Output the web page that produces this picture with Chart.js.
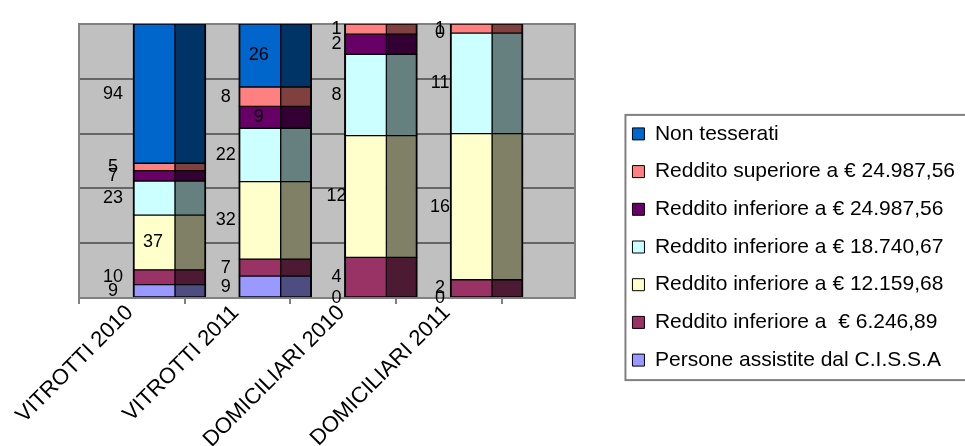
<!DOCTYPE html>
<html lang="it">
<head>
<meta charset="utf-8">
<script src="https://cdn.jsdelivr.net/npm/chart.js@4.4.1/dist/chart.umd.min.js"></script>
<style>
    html, body { margin: 0; padding: 0; background: #fff; overflow: hidden; }
</style>
</head>
<body>
<canvas id="grafico" width="965" height="446"></canvas>
<script>
const categorie = ['VITROTTI 2010', 'VITROTTI 2011', 'DOMICILIARI 2010', 'DOMICILIARI 2011'];

// serie, dal basso verso l'alto della pila
const personeAssistite = [9, 9, 0, 0];
const redditoInf6246 = [10, 7, 4, 2];
const redditoInf12159 = [37, 32, 12, 16];
const redditoInf18740 = [23, 22, 8, 11];
const redditoInf24987 = [7, 9, 2, 0];
const redditoSup24987 = [5, 8, 1, 1];
const nonTesserati = [94, 26, null, null];

const serieNomi = [
    'Persone assistite dal C.I.S.S.A',
    'Reddito inferiore a  € 6.246,89',
    'Reddito inferiore a € 12.159,68',
    'Reddito inferiore a € 18.740,67',
    'Reddito inferiore a € 24.987,56',
    'Reddito superiore a € 24.987,56',
    'Non tesserati'
];
const serieValori = [personeAssistite, redditoInf6246, redditoInf12159, redditoInf18740, redditoInf24987, redditoSup24987, nonTesserati];

const Grafico = (() => {
    let _configMap = {
        font: "'Liberation Sans', Arial, sans-serif",
        coloriFronte: ['#9999FF', '#993366', '#FFFFCC', '#CCFFFF', '#660066', '#FF8080', '#0066CC'],
        coloriLato: ['#4D4D80', '#4D1A33', '#808066', '#668080', '#330033', '#804040', '#003366'],
        spostamento: 0.908,   // dove cade lo spigolo fronte/lato dentro la categoria
        xMax: 4.69,           // la parete grigia continua oltre l'ultima categoria
        labelDx: [-20, -13, -8, -10],
        labelDentro: [[2, 0], [6, 1], [4, 1]]
    };

    const _totali = categorie.map((c, j) => serieValori.reduce((s, serie) => s + (serie[j] || 0), 0));

    const _percentuale = function (serie) {
        return serie.map((v, j) => ({ x: j + _configMap.spostamento, y: v === null ? null : v / _totali[j] * 100 }));
    };

    const _makeDatasets = function () {
        const fronte = serieValori.map((serie, i) => ({
            label: serieNomi[i],
            data: _percentuale(serie),
            stack: 'fronte',
            backgroundColor: _configMap.coloriFronte[i],
            borderColor: '#000',
            borderWidth: { top: 1, bottom: 1, left: 2, right: 1 },
            borderSkipped: false,
            barThickness: 42
        }));
        const lato = serieValori.map((serie, i) => ({
            label: serieNomi[i],
            data: _percentuale(serie),
            stack: 'lato',
            backgroundColor: _configMap.coloriLato[i],
            borderColor: '#000',
            borderWidth: { top: 1, bottom: 1, left: 1, right: 2 },
            borderSkipped: false,
            barThickness: 31
        }));
        return fronte.concat(lato);
    };

    // parete grigia dietro le barre
    const _parete = {
        id: 'parete',
        beforeDraw(chart) {
            const { ctx, chartArea } = chart;
            ctx.save();
            ctx.fillStyle = '#C0C0C0';
            ctx.fillRect(chartArea.left, chartArea.top, chartArea.right - chartArea.left, chartArea.bottom - chartArea.top);
            ctx.restore();
        }
    };

    // etichette con i valori accanto alle barre
    const _etichette = {
        id: 'etichette',
        afterDatasetsDraw(chart) {
            const ctx = chart.ctx;
            ctx.save();
            ctx.font = '18px ' + _configMap.font;
            ctx.fillStyle = '#000';
            ctx.textAlign = 'center';
            ctx.textBaseline = 'middle';
            serieValori.forEach((serie, i) => {
                const meta = chart.getDatasetMeta(i);
                meta.data.forEach((bar, j) => {
                    if (serie[j] === null) return;
                    const p = bar.getProps(['x', 'y', 'base', 'width'], true);
                    const left = p.x - p.width / 2;
                    const dentro = _configMap.labelDentro.some(([s, c]) => s === i && c === j);
                    const x = dentro ? left + 20 : left + _configMap.labelDx[j];
                    ctx.fillText(String(serie[j]), x, (p.y + p.base) / 2);
                });
            });
            ctx.restore();
        }
    };

    // cornice della legenda
    const _cornice = {
        id: 'cornice',
        afterDraw(chart) {
            const boxes = chart.legend.legendHitBoxes;
            if (!boxes || !boxes.length) return;
            const first = boxes[0];
            const last = boxes[boxes.length - 1];
            const ctx = chart.ctx;
            ctx.save();
            ctx.strokeStyle = '#808080';
            ctx.lineWidth = 2;
            const top = first.top + first.height / 2 - 19;
            const bottom = last.top + last.height / 2 + 20;
            ctx.strokeRect(first.left - 7, top, chart.width, bottom - top);
            ctx.restore();
        }
    };

    const _init = function () {
        Chart.defaults.font.family = _configMap.font;
        const ctx = document.getElementById('grafico');

        new Chart(ctx, {
            type: 'bar',
            data: { datasets: _makeDatasets() },
            options: {
                responsive: false,
                animation: false,
                layout: { padding: { top: 24, right: 0, bottom: 0, left: 0 } },
                scales: {
                    x: {
                        type: 'linear',
                        offset: false,
                        min: 0,
                        max: _configMap.xMax,
                        afterBuildTicks: (scale) => {
                            scale.ticks = [0, 0.5, 1, 1.5, 2, 2.5, 3, 3.5, 4].map(v => ({ value: v }));
                        },
                        afterFit: (scale) => { scale.height = 148; },
                        ticks: {
                            autoSkip: false,
                            minRotation: 45,
                            maxRotation: 45,
                            color: '#000',
                            padding: -4,
                            labelOffset: -2,
                            font: { size: 22 },
                            callback: (value) => (value % 1 === 0.5 ? categorie[Math.floor(value)] : '')
                        },
                        grid: {
                            offset: false,
                            drawOnChartArea: false,
                            tickLength: 6,
                            lineWidth: 2,
                            tickColor: (c) => (c.tick && c.tick.value % 1 === 0 ? '#808080' : 'rgba(0,0,0,0)')
                        },
                        border: { color: '#808080', width: 2 }
                    },
                    y: {
                        stacked: true,
                        min: 0,
                        max: 100,
                        afterFit: (scale) => { scale.width = 79; },
                        ticks: { display: false, stepSize: 20 },
                        grid: {
                            drawTicks: false,
                            lineWidth: 2,
                            color: (c) => (c.tick && c.tick.value === 100 ? '#808080' : '#666666')
                        },
                        border: { color: '#808080', width: 2 }
                    },
                    y2: {
                        position: 'right',
                        min: 0,
                        max: 100,
                        afterFit: (scale) => { scale.width = 41; },
                        ticks: { display: false },
                        grid: { display: false },
                        border: { display: true, color: '#808080', width: 2 }
                    }
                },
                plugins: {
                    tooltip: { enabled: false },
                    legend: {
                        position: 'right',
                        maxWidth: 500,
                        title: { display: true, text: '', padding: { top: 14, bottom: 0 }, font: { size: 10, lineHeight: 1 } },
                        labels: {
                            boxWidth: 12,
                            boxHeight: 12,
                            padding: 16.7,
                            color: '#000',
                            font: { size: 21 },
                            generateLabels: (chart) => chart.data.datasets.slice(0, serieValori.length).map((ds, i) => ({
                                text: ds.label,
                                fillStyle: ds.backgroundColor,
                                strokeStyle: '#000',
                                fontColor: '#000',
                                lineWidth: 1,
                                datasetIndex: i,
                                hidden: false
                            })).reverse()
                        }
                    }
                }
            },
            plugins: [_parete, _etichette, _cornice]
        });
    };

    return {
        init: _init
    };
})();

Grafico.init();
</script>
</body>
</html>
